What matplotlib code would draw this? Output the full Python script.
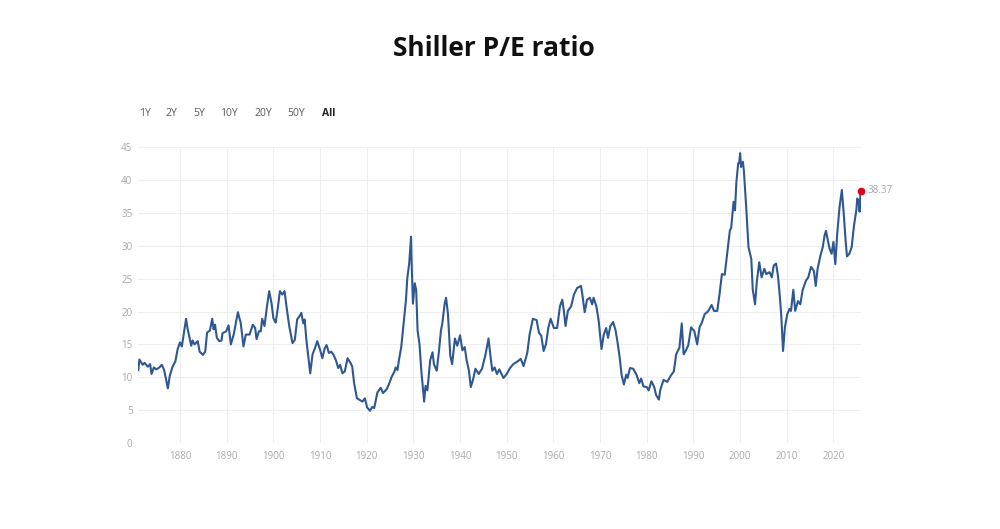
import matplotlib.pyplot as plt

years = [
    1871.07, 1871.3, 1872.0, 1872.4, 1873.1, 1873.6, 1873.9, 1874.4, 1874.9, 1875.6,
    1876.1, 1876.6, 1877.4, 1877.8, 1878.4, 1879.0, 1879.5, 1880.0, 1880.4, 1881.3,
    1881.6, 1882.4, 1882.7, 1883.1, 1883.8, 1884.2, 1884.9, 1885.4, 1885.8, 1886.4,
    1886.9, 1887.2, 1887.5, 1887.9, 1888.4, 1888.9, 1889.1, 1889.9, 1890.4, 1890.9,
    1891.5, 1892.4, 1893.0, 1893.6, 1894.1, 1894.9, 1895.6, 1896.1, 1896.4, 1896.9,
    1897.3, 1897.6, 1898.1, 1898.6, 1899.1, 1899.6, 1900.0, 1900.5, 1901.0, 1901.4,
    1901.9, 1902.4, 1902.9, 1903.4, 1904.1, 1904.6, 1905.1, 1905.6, 1906.0, 1906.4,
    1906.7, 1907.1, 1907.9, 1908.4, 1908.9, 1909.4, 1910.0, 1910.5, 1911.0, 1911.4,
    1911.9, 1912.4, 1912.9, 1913.4, 1913.9, 1914.3, 1914.8, 1915.3, 1915.9, 1916.6,
    1916.9, 1917.3, 1917.9, 1918.6, 1919.1, 1919.6, 1920.1, 1920.7, 1921.2, 1921.6,
    1922.3, 1923.0, 1923.5, 1924.3, 1924.8, 1925.3, 1925.9, 1926.2, 1926.6, 1926.9,
    1927.4, 1927.9, 1928.4, 1928.7, 1929.1, 1929.5, 1929.6, 1929.9, 1930.3, 1930.6,
    1930.9, 1931.3, 1931.7, 1932.3, 1932.6, 1933.0, 1933.6, 1934.1, 1934.4, 1935.0,
    1935.5, 1935.9, 1936.2, 1936.7, 1937.0, 1937.4, 1937.9, 1938.3, 1938.9, 1939.4,
    1940.0, 1940.5, 1941.0, 1941.4, 1941.9, 1942.3, 1942.8, 1943.3, 1944.0, 1944.7,
    1945.4, 1946.1, 1946.5, 1946.9, 1947.4, 1947.9, 1948.4, 1949.3, 1950.0, 1950.7,
    1951.4, 1952.3, 1953.0, 1953.6, 1954.4, 1954.9, 1955.6, 1956.4, 1956.9, 1957.4,
    1957.9, 1958.4, 1958.9, 1959.4, 1960.1, 1960.8, 1961.4, 1961.9, 1962.2, 1962.6,
    1963.1, 1963.8, 1964.4, 1965.1, 1965.9, 1966.2, 1966.7, 1967.2, 1967.8, 1968.3,
    1968.6, 1969.2, 1969.7, 1970.3, 1970.8, 1971.3, 1971.7, 1972.2, 1972.8, 1973.3,
    1973.7, 1974.2, 1974.6, 1975.1, 1975.6, 1975.9, 1976.4, 1977.1, 1977.8, 1978.4,
    1978.8, 1979.3, 1980.0, 1980.4, 1981.0, 1981.6, 1982.0, 1982.6, 1982.9, 1983.6,
    1984.4, 1985.1, 1985.8, 1986.3, 1987.0, 1987.5, 1987.9, 1988.4, 1988.9, 1989.5,
    1990.2, 1990.8, 1991.3, 1991.8, 1992.4, 1993.1, 1993.9, 1994.4, 1995.1, 1995.6,
    1996.1, 1996.7, 1997.3, 1997.8, 1998.1, 1998.6, 1998.9, 1999.2, 1999.6, 1999.8,
    2000.0, 2000.2, 2000.6, 2000.8, 2001.3, 2001.8, 2002.4, 2002.7, 2003.2, 2003.6,
    2004.1, 2004.6, 2005.2, 2005.6, 2006.3, 2006.8, 2007.2, 2007.7, 2008.1, 2008.4,
    2008.8, 2009.2, 2009.6, 2010.1, 2010.6, 2010.9, 2011.4, 2011.8, 2012.4, 2012.9,
    2013.4, 2014.1, 2014.6, 2015.2, 2015.8, 2016.2, 2016.6, 2017.2, 2017.7, 2018.1,
    2018.4, 2018.8, 2019.2, 2019.6, 2020.0, 2020.4, 2020.8, 2021.3, 2021.8, 2022.2,
    2022.6, 2022.9, 2023.4, 2023.9, 2024.4, 2024.9, 2025.1, 2025.4, 2025.6, 2025.8,
]

pe_ratio = [
    11.1, 12.7, 11.9, 12.2, 11.6, 12.0, 10.5, 11.5, 11.2, 11.5,
    11.9, 11.1, 8.3, 10.2, 11.6, 12.4, 14.3, 15.3, 14.7, 18.9,
    17.5, 14.8, 15.6, 15.0, 15.5, 13.9, 13.4, 13.9, 16.8, 17.1,
    18.9, 17.3, 18.0, 16.0, 15.5, 15.6, 16.7, 17.0, 17.9, 15.0,
    16.5, 19.9, 18.3, 14.7, 16.5, 16.5, 18.0, 17.5, 15.8, 17.0,
    17.0, 18.9, 17.8, 20.6, 23.1, 21.3, 19.0, 18.3, 20.8, 23.1,
    22.6, 23.1, 20.3, 17.8, 15.2, 15.7, 18.8, 19.3, 19.8, 18.2,
    18.8, 15.5, 10.6, 13.5, 14.4, 15.5, 14.2, 12.9, 14.4, 14.9,
    13.7, 13.9, 13.4, 12.6, 11.4, 11.9, 10.6, 10.9, 12.9, 12.1,
    11.6, 9.1, 6.8, 6.5, 6.3, 6.8, 5.4, 4.9, 5.5, 5.3,
    7.7, 8.4, 7.6, 8.2, 9.0, 10.0, 10.8, 11.5, 11.1, 12.6,
    14.6, 18.2, 21.7, 25.1, 27.3, 31.4, 28.1, 21.2, 24.3, 23.3,
    17.1, 15.1, 11.0, 6.3, 8.7, 8.0, 12.6, 13.8, 12.0, 11.0,
    14.1, 17.1, 18.2, 21.2, 22.1, 19.7, 13.3, 12.0, 15.9, 14.8,
    16.4, 14.1, 14.6, 12.6, 11.0, 8.5, 9.7, 11.3, 10.5, 11.3,
    13.3, 15.9, 13.3, 11.0, 11.5, 10.5, 11.2, 9.9, 10.5, 11.4,
    12.0, 12.4, 12.8, 11.7, 13.7, 16.5, 18.9, 18.7, 16.8, 16.3,
    14.0, 15.0, 17.5, 18.9, 17.5, 17.5, 20.8, 21.8, 20.3, 17.8,
    20.1, 20.8, 22.6, 23.6, 23.9, 22.6, 19.9, 21.8, 22.1, 21.1,
    22.1, 20.8, 18.6, 14.3, 16.5, 17.5, 16.0, 17.8, 18.4, 17.2,
    15.5, 13.0, 10.4, 8.9, 10.4, 9.9, 11.4, 11.3, 10.4, 9.1,
    9.8, 8.6, 8.5, 8.0, 9.4, 8.5, 7.3, 6.6, 8.1, 9.6,
    9.3, 10.2, 10.9, 13.5, 14.5, 18.2, 13.5, 14.1, 14.9, 17.6,
    17.0, 15.0, 17.6, 18.3, 19.6, 20.0, 21.0, 20.1, 20.1, 22.7,
    25.7, 25.6, 29.3, 32.3, 32.8, 36.7, 35.4, 39.7, 42.6, 42.6,
    44.1, 42.0, 42.8, 41.5, 35.9, 29.8, 28.0, 23.4, 21.1, 24.7,
    27.5, 25.2, 26.5, 25.7, 26.0, 25.2, 27.0, 27.3, 25.5, 23.2,
    19.6, 14.0, 17.6, 19.6, 20.4, 20.1, 23.3, 20.1, 21.6, 21.1,
    23.3, 24.7, 25.2, 26.8, 26.2, 23.9, 26.5, 28.5, 29.8, 31.6,
    32.3, 30.8, 29.5, 28.8, 30.6, 27.2, 31.8, 35.9, 38.5, 34.9,
    30.8, 28.4, 28.8, 29.8, 33.1, 35.4, 37.2, 36.7, 35.2, 38.37,
]

range_buttons = ["1Y", "2Y", "5Y", "10Y", "20Y", "50Y", "All"]
x_ticks = list(range(1880, 2030, 10))
y_ticks = list(range(0, 50, 5))

plt.rcParams["font.family"] = ["Open Sans", "DejaVu Sans"]

fig = plt.figure(figsize=(10, 5.29), dpi=100)
ax = fig.add_axes([0.138, 0.1626, 0.723, 0.559])

ax.plot(years, pe_ratio, color="#2f5791", linewidth=1.5, solid_joinstyle="round")
ax.plot(years[-1], pe_ratio[-1], "o", color="#e3001b", markersize=4.5,
        zorder=5, clip_on=False)
ax.annotate(f"{pe_ratio[-1]:.2f}", (years[-1], pe_ratio[-1]), xytext=(5, 0),
            textcoords="offset points", va="center", ha="left",
            fontsize=7, color="#a8a8a8")

ax.set_xlim(1871.0, 2025.9)
ax.set_ylim(0, 45)
ax.set_xticks(x_ticks)
ax.set_yticks(y_ticks)
ax.grid(True, color="#efefef", linewidth=0.8)
ax.set_axisbelow(True)
for s in ax.spines.values():
    s.set_visible(False)
ax.tick_params(length=0, labelsize=7, labelcolor="#a8a8a8")
ax.tick_params(axis="y", pad=4)
ax.tick_params(axis="x", pad=6)

fig.text(0.4935, 1 - 49 / 529, "Shiller P/E ratio", ha="center", va="center",
         fontsize=19, fontweight="bold", color="#111111")

button_x = [0.139, 0.165, 0.193, 0.220, 0.254, 0.287, 0.322]
for label, bx in zip(range_buttons, button_x):
    bold = label == "All"
    fig.text(bx, 1 - 113 / 529, label, ha="left", va="center", fontsize=7.5,
             color="#222222" if bold else "#5a5a5a",
             fontweight="bold" if bold else "normal")

fig.savefig("out.png", dpi=100, facecolor="white")
plt.close(fig)
